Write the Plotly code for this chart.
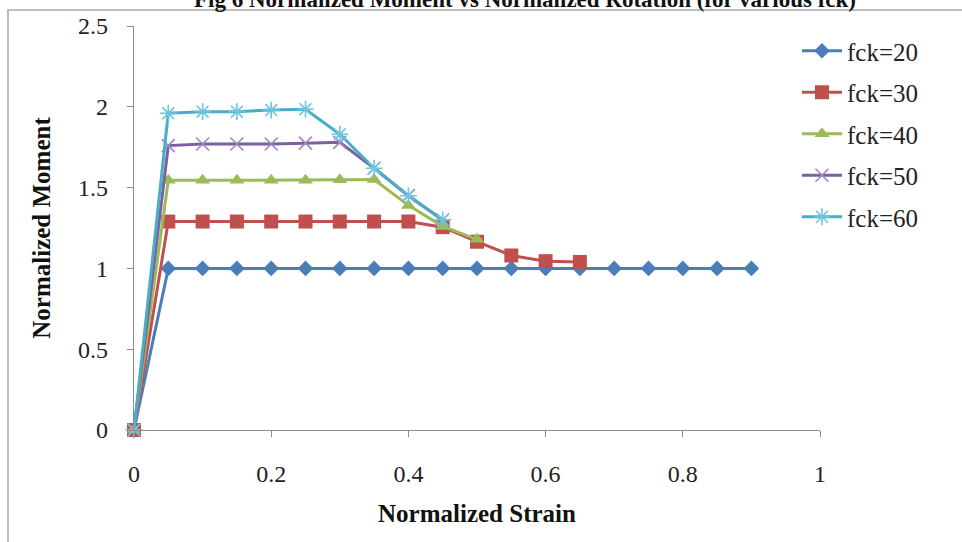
import plotly.graph_objects as go

# Normalized strain steps (0 to 0.9 in 0.05 increments)
strain = [0.0, 0.05, 0.10, 0.15, 0.20, 0.25, 0.30, 0.35, 0.40, 0.45,
          0.50, 0.55, 0.60, 0.65, 0.70, 0.75, 0.80, 0.85, 0.90]

series_names = ["fck=20", "fck=30", "fck=40", "fck=50", "fck=60"]

moment_fck20 = [0, 1.0, 1.0, 1.0, 1.0, 1.0, 1.0, 1.0, 1.0, 1.0,
                1.0, 1.0, 1.0, 1.0, 1.0, 1.0, 1.0, 1.0, 1.0]
moment_fck30 = [0, 1.29, 1.29, 1.29, 1.29, 1.29, 1.29, 1.29, 1.29, 1.255,
                1.165, 1.08, 1.045, 1.04]
moment_fck40 = [0, 1.545, 1.545, 1.545, 1.545, 1.545, 1.548, 1.55, 1.39, 1.26,
                1.18]
moment_fck50 = [0, 1.76, 1.77, 1.77, 1.77, 1.775, 1.78, 1.62, 1.45, 1.30]
moment_fck60 = [0, 1.96, 1.97, 1.97, 1.98, 1.985, 1.83, 1.62, 1.45, 1.30]

x_ticks = [0, 0.2, 0.4, 0.6, 0.8, 1]
y_ticks = [0, 0.5, 1, 1.5, 2, 2.5]

series_values = [moment_fck20, moment_fck30, moment_fck40, moment_fck50, moment_fck60]
line_colors = ["#4A7EBB", "#C0504D", "#9BBB59", "#7D60A0", "#4BACC6"]
marker_styles = [
    dict(symbol="diamond", size=12, color="#4A7EBB"),
    dict(symbol="square", size=14, color="#C0504D"),
    dict(symbol="triangle-up", size=13, color="#9BBB59"),
    dict(symbol="x-thin-open", size=13, color="#9C86C8", line=dict(width=1.6, color="#9C86C8")),
    dict(symbol="asterisk-open", size=14, color="#6CC6DE", line=dict(width=1.6, color="#6CC6DE")),
]

SERIF = "Times New Roman, Liberation Serif, serif"

fig = go.Figure()
for name, vals, col, mk in zip(series_names, series_values, line_colors, marker_styles):
    fig.add_trace(go.Scatter(
        x=strain[:len(vals)], y=vals, name=name, mode="lines+markers",
        line=dict(color=col, width=3), marker=mk, cliponaxis=False,
        legendgroup=name,
    ))

W, H = 962, 542
L, R, T, B = 134, 142, 26, 112
PW, PH = W - L - R, H - T - B


def px_to_paper(px, py):
    return (px - L) / PW, (H - B - py) / PH


# Outer chart frame
x0, y0 = px_to_paper(8, 10)
x1, y1 = px_to_paper(975, 560)
fig.add_shape(type="rect", xref="paper", yref="paper", x0=x0, y0=y1, x1=x1, y1=y0,
              line=dict(color="#BEBEBE", width=2), fillcolor="rgba(0,0,0,0)", layer="below")

tx, ty = px_to_paper(525, 0)
fig.add_annotation(xref="paper", yref="paper", x=tx, y=ty, xanchor="center", yanchor="middle",
                   text="<b>Fig 6 Normalized Moment vs Normalized Rotation (for various fck)</b>",
                   showarrow=False, font=dict(family=SERIF, size=23, color="#111111"))

axis_common = dict(
    showgrid=False, zeroline=False, showline=True, linecolor="#8C8C8C", linewidth=1.3,
    ticks="outside", ticklen=6, tickcolor="#8C8C8C", tickwidth=1.3,
    tickfont=dict(family=SERIF, size=24, color="#222222"),
)

fig.update_layout(
    width=W, height=H,
    margin=dict(l=L, r=R, t=T, b=B),
    paper_bgcolor="white", plot_bgcolor="white",
    font=dict(family=SERIF, color="#222222"),
    showlegend=True,
    legend=dict(
        x=(797 - L) / PW, y=px_to_paper(0, 28)[1], xanchor="left", yanchor="top",
        font=dict(family=SERIF, size=25, color="#222222"),
        bgcolor="rgba(0,0,0,0)", itemwidth=40, tracegroupgap=6,
        traceorder="grouped",
    ),
    xaxis=dict(range=[0, 1], tickvals=x_ticks, ticklabelstandoff=16,
               title=dict(text="<b>Normalized Strain</b>", standoff=18,
                          font=dict(family=SERIF, size=25, color="#111111")),
               **axis_common),
    yaxis=dict(range=[0, 2.5], tickvals=y_ticks, ticklabelstandoff=14,
               title=dict(text="<b>Normalized Moment</b>", standoff=20,
                          font=dict(family=SERIF, size=25, color="#111111")),
               **axis_common),
)

fig.write_html("out.html")
